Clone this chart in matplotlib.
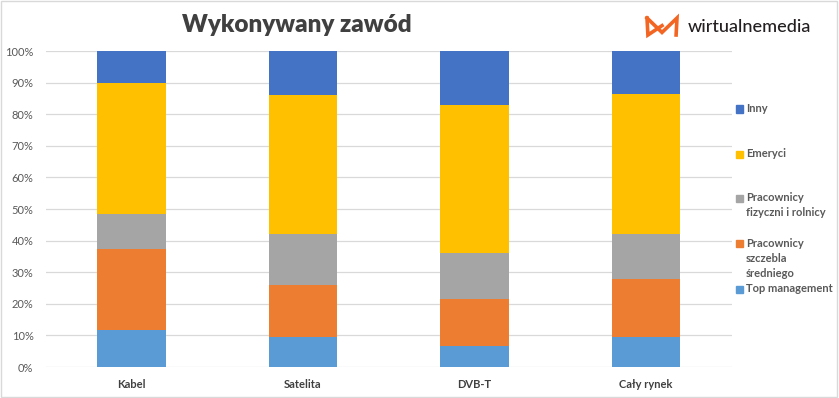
import matplotlib.pyplot as plt
from matplotlib.patches import Rectangle
from matplotlib.lines import Line2D

plt.rcParams['font.family'] = ['Lato', 'DejaVu Sans']

categories = ['Kabel', 'Satelita', 'DVB-T', 'Cały rynek']
top_management = [11.8, 9.6, 6.7, 9.4]
pracownicy_sredni = [25.5, 16.3, 14.9, 18.5]
pracownicy_fizyczni = [11.1, 16.2, 14.6, 14.2]
emeryci = [41.6, 44.0, 46.7, 44.3]
inny = [10.0, 13.9, 17.1, 13.6]
y_ticks = [0, 10, 20, 30, 40, 50, 60, 70, 80, 90, 100]

series = [
    ('Top management', top_management, '#5B9BD5'),
    ('Pracownicy\nszczebla\nśredniego', pracownicy_sredni, '#ED7D31'),
    ('Pracownicy\nfizyczni i rolnicy', pracownicy_fizyczni, '#A5A5A5'),
    ('Emeryci', emeryci, '#FFC000'),
    ('Inny', inny, '#4472C4'),
]

fig = plt.figure(figsize=(8.39, 3.98), dpi=100)
ax = fig.add_axes([46 / 839, 1 - 367 / 398, (731.5 - 46) / 839, (367 - 51) / 398])

x = list(range(len(categories)))
bottom = [0] * len(categories)
for name, vals, col in series:
    ax.bar(x, vals, 0.4, bottom=bottom, color=col, zorder=2)
    bottom = [b + v for b, v in zip(bottom, vals)]

ax.set_xlim(-0.5, 3.5)
ax.set_ylim(0, 100)
ax.set_yticks(y_ticks)
ax.set_yticklabels([f'{t}%' for t in y_ticks], color='#595959', fontsize=8)
ax.set_xticks(x)
ax.set_xticklabels(categories, color='#404040', fontsize=8, fontweight='bold')
ax.tick_params(length=0, axis='y', pad=9)
ax.tick_params(length=0, axis='x', pad=9)
ax.grid(axis='y', color='#D9D9D9', linewidth=0.9, zorder=0)
ax.set_axisbelow(True)
for s in ax.spines.values():
    s.set_visible(False)

# title
fig.text(297 / 839, 1 - 25 / 398, 'Wykonywany zawód', ha='center', va='center',
         fontsize=17.5, fontweight='heavy', color='#404040')

# legend (placed like Excel)
legend_pos = [289, 244, 198, 154, 109]
for (name, vals, col), ytop in zip(series, legend_pos):
    fig.patches.append(Rectangle((736 / 839, 1 - (ytop + 3.5) / 398), 7 / 839, 7 / 398,
                                 transform=fig.transFigure, color=col, figure=fig))
    fig.text(746 / 839, 1 - (ytop - 6) / 398, name, ha='left', va='top', fontsize=8,
             color='#595959', fontweight='bold', linespacing=1.45)

# logo
def lx(v):
    return (647 + v * 30) / 839

def ly(v):
    return 1 - (35 - v * 17) / 398

for pts in [[(0, 1), (0.03, 0), (0.5, 0.55)], [(0, 1), (0.5, 0.15), (1, 1), (0.97, 0)]]:
    fig.add_artist(Line2D([lx(p[0]) for p in pts], [ly(p[1]) for p in pts],
                          transform=fig.transFigure, color='#F26522', linewidth=2.6,
                          solid_joinstyle='miter'))
fig.text(688 / 839, 1 - 27 / 398, 'wirtualnemedia', ha='left', va='center',
         fontsize=13, color='#231F20', fontweight='medium')

# chart border
fig.patches.append(Rectangle((0.001, 0.002), 0.997, 0.995, transform=fig.transFigure,
                             fill=False, edgecolor='#D9D9D9', linewidth=1, figure=fig))

fig.savefig('out.png', dpi=100)
